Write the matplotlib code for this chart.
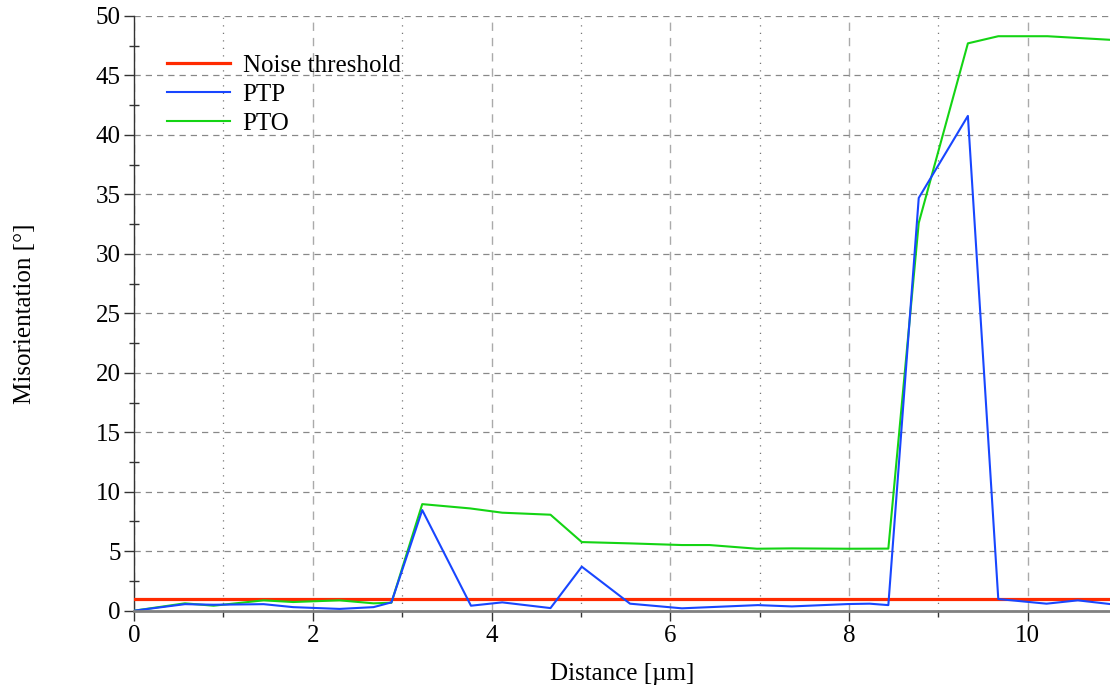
import matplotlib
matplotlib.use("Agg")
import matplotlib.pyplot as plt
from matplotlib.ticker import MultipleLocator

# distance along the profile [um]
x_pto = [0, 0.57, 0.89, 1.45, 1.78, 2.30, 2.68, 2.88, 3.225, 3.76, 4.12, 4.66, 5.01,
         5.55, 6.13, 6.44, 6.97, 7.36, 7.99, 8.44, 8.78, 9.33, 9.67, 10.22, 10.92]
y_pto = [0, 0.62, 0.42, 0.87, 0.73, 0.87, 0.62, 0.67, 8.96, 8.6, 8.24, 8.07, 5.77,
         5.66, 5.52, 5.52, 5.21, 5.24, 5.21, 5.22, 32.6, 47.7, 48.3, 48.3, 48.0]

x_ptp = [0, 0.57, 0.89, 1.45, 1.78, 2.30, 2.68, 2.88, 3.225, 3.77, 4.12, 4.66, 5.01,
         5.55, 6.13, 6.98, 7.36, 7.99, 8.23, 8.44, 8.78, 9.33, 9.67, 10.21, 10.56, 10.92]
y_ptp = [0, 0.55, 0.5, 0.55, 0.3, 0.15, 0.3, 0.7, 8.46, 0.42, 0.70, 0.22, 3.70,
         0.59, 0.2, 0.47, 0.36, 0.56, 0.59, 0.47, 34.7, 41.6, 0.98, 0.59, 0.87, 0.56]

noise = 1.0
x_max = 10.92

plt.rcParams['font.family'] = ['Liberation Serif', 'DejaVu Serif']

fig = plt.figure(figsize=(11.10, 6.86), dpi=100)
ax = fig.add_axes([134/1110, 1 - 610.7/686, (1110 - 134)/1110, (610.7 - 16)/686])

ax.axhline(noise, color='#ff2a00', linewidth=2.3, label='Noise threshold', zorder=3)
ax.plot(x_ptp, y_ptp, color='#1846ff', linewidth=1.5, label='PTP', zorder=4)
ax.plot(x_pto, y_pto, color='#14d414', linewidth=1.5, label='PTO', zorder=3)

ax.set_xlim(0, x_max)
ax.set_ylim(0, 50)
ax.xaxis.set_major_locator(MultipleLocator(2))
ax.xaxis.set_minor_locator(MultipleLocator(1))
ax.yaxis.set_major_locator(MultipleLocator(5))
ax.yaxis.set_minor_locator(MultipleLocator(2.5))

# grid
ax.grid(which='major', axis='y', color='#888888', linestyle=(0, (5, 4)), linewidth=0.9)
ax.grid(which='major', axis='x', color='#aaaaaa', linestyle=(0, (6, 5)), linewidth=1.0)
ax.grid(which='minor', axis='x', color='#777777', linestyle=(0, (1, 5)), linewidth=0.9)

for s in ['top', 'right']:
    ax.spines[s].set_visible(False)
ax.spines['left'].set_color('#333333')
ax.spines['left'].set_linewidth(1.0)
ax.spines['bottom'].set_color('#808080')
ax.spines['bottom'].set_linewidth(2.0)
ax.spines['bottom'].set_zorder(5)

ax.tick_params(axis='y', which='major', direction='out', length=7.5, width=1,
               color='#333333', labelsize=18, pad=2)
ax.tick_params(axis='y', which='minor', direction='inout', length=7, width=1, color='#333333')
ax.tick_params(axis='x', which='major', direction='out', length=7, width=1,
               color='#333333', labelsize=18, pad=3)
ax.tick_params(axis='x', which='minor', direction='out', length=4, width=1, color='#333333')

ax.set_xlabel('Distance [µm]', fontsize=18)
ax.set_ylabel('Misorientation [°]', fontsize=18)
ax.xaxis.set_label_coords(0.5, -0.088)
ax.yaxis.set_label_coords(-0.1005, 0.5)

ax.legend(loc='upper left', frameon=False, fontsize=18, handlelength=2.5,
          handletextpad=0.52, labelspacing=0.25, borderpad=0, borderaxespad=0,
          bbox_to_anchor=(0.034, 0.935))

fig.savefig('out.png', dpi=100)
